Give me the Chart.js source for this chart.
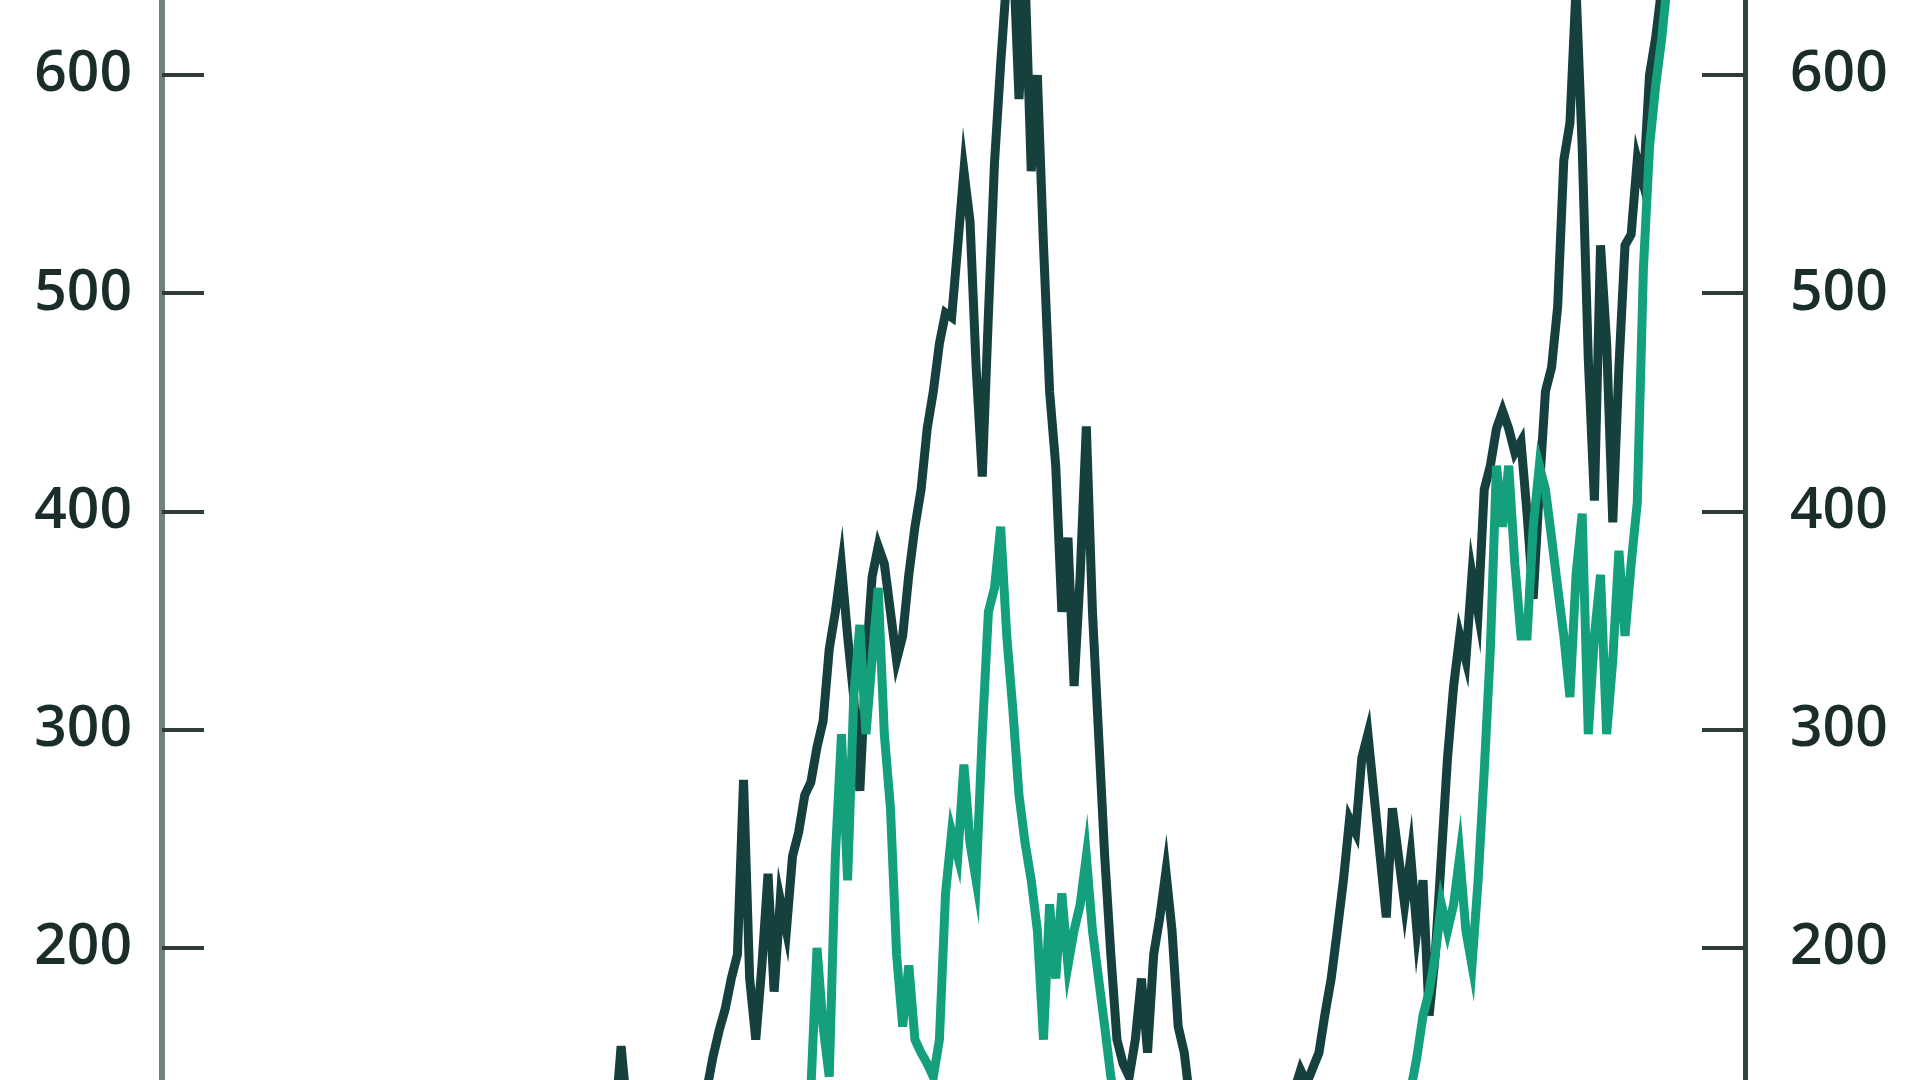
<!DOCTYPE html>
<html>
<head>
<meta charset="utf-8">
<script src="https://cdn.jsdelivr.net/npm/chart.js@4.4.1/dist/chart.umd.min.js"></script>
<style>
  html, body { margin: 0; padding: 0; background: #ffffff; }
  #wrap { width: 1920px; height: 1080px; }
</style>
</head>
<body>
<div id="wrap"><canvas id="myChart" width="1920" height="1080"></canvas></div>
<script>
// data, one value per step along the x axis
const darkStart = 74;
const darkValues = [
    120, 155, 125, 110, 105, 112, 108, 115, 110, 118,
    112, 120, 125, 118, 128, 135, 150, 162, 172, 186,
    197, 277, 186, 158, 192, 234, 180, 222, 208, 242,
    253, 270, 276, 292, 304, 337, 354, 375, 343, 315,
    272, 330, 370, 384, 376, 354, 332, 343, 371, 393,
    410, 438, 455, 477, 491, 489, 522, 556, 533, 466,
    416, 490, 560, 605, 645, 660, 589, 645, 556, 600,
    522, 455, 421, 354, 388, 320, 371, 439, 354, 298,
    242, 197, 158, 147, 141, 158, 186, 152, 197, 214,
    235, 208, 164, 152, 128, 115, 108, 112, 105, 100,
    108, 115, 110, 118, 112, 120, 125, 118, 128, 124,
    130, 135, 144, 138, 145, 152, 170, 186, 208, 231,
    259, 253, 287, 298, 270, 242, 214, 264, 242, 220,
    242, 208, 231, 169, 197, 242, 287, 320, 343, 332,
    371, 354, 410, 421, 438, 446, 438, 427, 432, 399,
    360, 410, 455, 466, 494, 561, 578, 640, 567, 470,
    405, 522, 477, 395, 466, 522, 527, 561, 550, 600,
    617, 640, 655, 670
];

const greenStart = 105;
const greenValues = [
    120, 135, 200, 164, 141, 242, 298, 231, 315, 348,
    298, 332, 365, 298, 264, 197, 164, 192, 158, 152,
    147, 141, 158, 225, 253, 242, 284, 248, 231, 298,
    354, 365, 393, 343, 309, 270, 248, 231, 208, 158,
    220, 186, 225, 192, 208, 220, 242, 208, 186, 164,
    141, 125, 118, 112, 108, 115, 110, 104, 112, 118,
    110, 106, 114, 108, 102, 110, 116, 108, 104, 112,
    118, 110, 105, 112, 108, 115, 110, 106, 112, 118,
    110, 114, 108, 112, 116, 110, 118, 114, 120, 116,
    122, 118, 125, 128, 122, 126, 130, 128, 132, 135,
    150, 169, 180, 197, 220, 208, 220, 242, 208, 192,
    231, 281, 337, 421, 393, 421, 376, 343, 343, 393,
    421, 410, 388, 365, 343, 315, 371, 399, 298, 343,
    371, 298, 332, 382, 343, 376, 404, 511, 567, 595,
    617, 645
];

const yTicks = [200, 300, 400, 500, 600];

// turn the arrays into points
const darkPoints = darkValues.map((v, i) => ({ x: darkStart + i, y: v }));
const greenPoints = greenValues.map((v, i) => ({ x: greenStart + i, y: v }));

const textColor = '#1a2d2b';
const labelFont = { family: 'Open Sans', size: 57, weight: 600 };

// tick marks sit inside the plot area
const innerTicks = {
    id: 'innerTicks',
    afterDatasetsDraw(chart) {
        const ctx = chart.ctx;
        const area = chart.chartArea;
        ctx.save();
        ctx.strokeStyle = '#2e3b39';
        ctx.lineWidth = 4;
        yTicks.forEach(v => {
            const y = Math.round(chart.scales.y.getPixelForValue(v));
            ctx.beginPath();
            ctx.moveTo(area.left, y);
            ctx.lineTo(area.left + 42, y);
            ctx.stroke();
            const y2 = Math.round(chart.scales.y2.getPixelForValue(v));
            ctx.beginPath();
            ctx.moveTo(area.right, y2);
            ctx.lineTo(area.right - 43, y2);
            ctx.stroke();
        });
        ctx.restore();
    }
};

const setTicks = scale => {
    scale.ticks = yTicks.map(v => ({ value: v }));
};

// fixed axis widths, and no extra room above/below for the labels
const fitAxis = w => scale => {
    scale.width = w;
    scale.paddingTop = 0;
    scale.paddingBottom = 0;
};

const config = {
    type: 'line',
    data: {
        datasets: [{
            label: 'dark',
            data: darkPoints,
            borderColor: '#15403d',
            borderWidth: 9,
            pointRadius: 0,
            tension: 0,
            order: 2
        }, {
            label: 'green',
            data: greenPoints,
            borderColor: '#14a07c',
            borderWidth: 9,
            pointRadius: 0,
            tension: 0,
            order: 1
        }]
    },
    options: {
        responsive: false,
        animation: false,
        events: [],
        layout: { padding: 0 },
        plugins: {
            legend: { display: false },
            tooltip: { enabled: false }
        },
        scales: {
            x: {
                type: 'linear',
                display: false,
                min: 0,
                max: 258.6
            },
            y: {
                type: 'linear',
                position: 'left',
                min: 139.5,
                max: 634.4,
                afterBuildTicks: setTicks,
                afterFit: fitAxis(162),
                grid: { display: false, drawTicks: false },
                border: { display: true, color: '#6f827e', width: 6 },
                ticks: { color: textColor, font: labelFont, padding: 30 }
            },
            y2: {
                type: 'linear',
                position: 'right',
                min: 139.5,
                max: 634.4,
                afterBuildTicks: setTicks,
                afterFit: fitAxis(175),
                grid: { display: false, drawTicks: false },
                border: { display: true, color: '#34423f', width: 5 },
                ticks: { color: textColor, font: labelFont, padding: 45 }
            }
        }
    },
    plugins: [innerTicks]
};

const myChart = new Chart(document.getElementById('myChart'), config);
</script>
</body>
</html>
